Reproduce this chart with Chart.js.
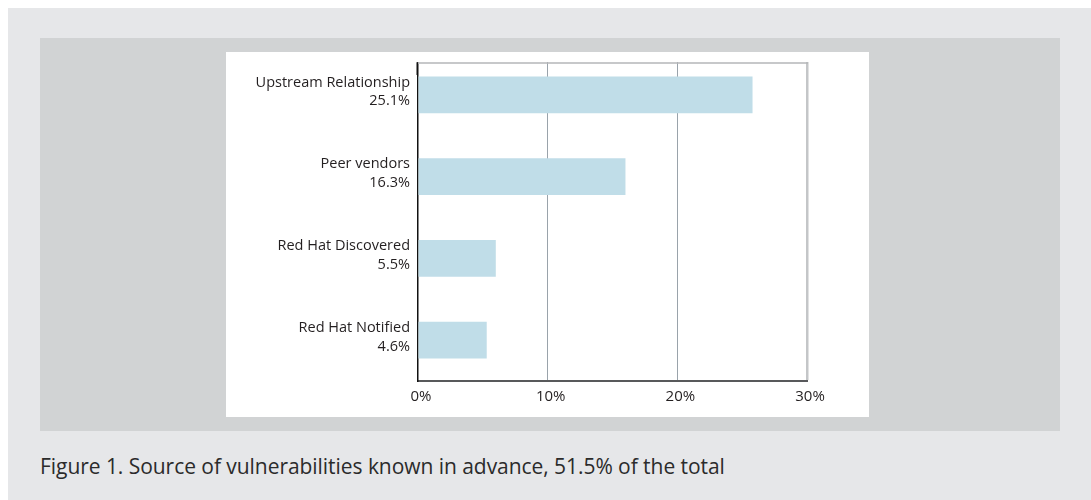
<!DOCTYPE html>
<html>
<head>
<meta charset="utf-8">
<script src="https://cdn.jsdelivr.net/npm/chart.js@4.4.0/dist/chart.umd.min.js"></script>
<style>
  html, body { margin: 0; padding: 0; background: #ffffff; }
  body { width: 1091px; height: 500px; position: relative; overflow: hidden; font-family: 'Open Sans', sans-serif; }
  .page { position: absolute; left: 8px; top: 8px; right: 0; bottom: 0; background: #e6e7e9; }
  .panel { position: absolute; left: 40px; top: 38px; width: 1020px; height: 393px; background: #d1d3d4; }
  .card { position: absolute; left: 226px; top: 52px; width: 643px; height: 365px; background: #ffffff; }
  .caption { position: absolute; left: 40px; top: 452px; font-size: 21px; color: #2b2b2b; letter-spacing: -0.05px; }
</style>
</head>
<body>
<div class="page"></div>
<div class="panel"></div>
<div class="card"><canvas id="sourceChart" width="643" height="365"></canvas></div>
<div class="caption">Figure 1. Source of vulnerabilities known in advance, 51.5% of the total</div>
<script>
// category names and the share printed under each one
const categories = ['Upstream Relationship', 'Peer vendors', 'Red Hat Discovered', 'Red Hat Notified'];
const shareText = ['25.1%', '16.3%', '5.5%', '4.6%'];
// bar lengths as drawn (percent)
const barValues = [25.8, 16.0, 6.0, 5.3];
const xTicks = [0, 10, 20, 30];

// the plot box starts a little below the top of the first band
const FRAME_GAP = 9;

const plotFrame = {
    id: 'plotFrame',
    beforeDatasetsDraw(chart) {
        const { ctx, chartArea } = chart;
        ctx.save();
        ctx.fillStyle = '#ffffff';
        ctx.fillRect(chartArea.left - 2, chartArea.top - 4, chartArea.width + 6, FRAME_GAP + 3);
        ctx.restore();
    },
    afterDatasetsDraw(chart) {
        const { ctx, chartArea } = chart;
        ctx.save();
        ctx.strokeStyle = '#b4b6b8';
        ctx.lineWidth = 1.5;
        ctx.beginPath();
        ctx.moveTo(chartArea.left - 0.75, chartArea.top + FRAME_GAP);
        ctx.lineTo(chartArea.right + 1, chartArea.top + FRAME_GAP);
        ctx.stroke();
        ctx.strokeStyle = '#111111';
        ctx.beginPath();
        ctx.moveTo(chartArea.left - 0.75, chartArea.top + FRAME_GAP - 0.75);
        ctx.lineTo(chartArea.left - 0.75, chartArea.top + FRAME_GAP + 12);
        ctx.stroke();
        ctx.restore();
    }
};

new Chart(document.getElementById('sourceChart'), {
    type: 'bar',
    data: {
        labels: categories.map((c, i) => [c, shareText[i]]),
        datasets: [{
            data: barValues,
            backgroundColor: '#c0dde8',
            borderWidth: 0,
            categoryPercentage: 0.9,
            barPercentage: 0.5
        }]
    },
    options: {
        indexAxis: 'y',
        responsive: false,
        animation: false,
        layout: { padding: { top: 2, right: 62, left: 0, bottom: 0 } },
        plugins: { legend: { display: false }, tooltip: { enabled: false } },
        scales: {
            x: {
                min: 0,
                max: 30,
                afterBuildTicks: s => { s.ticks = xTicks.map(v => ({ value: v })); },
                afterFit: s => { s.height = 36; s.paddingLeft = 0; s.paddingRight = 0; },
                ticks: {
                    callback: v => v + '%',
                    color: '#231f20',
                    font: { family: 'Open Sans', size: 15, weight: '500' },
                    padding: 7,
                    labelOffset: 3
                },
                grid: {
                    drawTicks: false,
                    color: c => c.tick && c.tick.value === 30 ? '#c4c6c8' : (c.tick && c.tick.value === 0 ? 'rgba(0,0,0,0)' : '#9aa3ab'),
                    lineWidth: c => c.tick && c.tick.value === 30 ? 2.5 : 1
                },
                border: { color: '#58595b', width: 2 }
            },
            y: {
                afterFit: s => { s.width = 192; s.paddingTop = 0; s.paddingBottom = 0; },
                ticks: {
                    color: '#231f20',
                    font: { family: 'Open Sans', size: 14.5, weight: '500', lineHeight: 1.28 },
                    padding: 8,
                    labelOffset: -3
                },
                grid: { display: false, drawTicks: false },
                border: { color: '#111111', width: 1.5 }
            }
        }
    },
    plugins: [plotFrame]
});
</script>
</body>
</html>
